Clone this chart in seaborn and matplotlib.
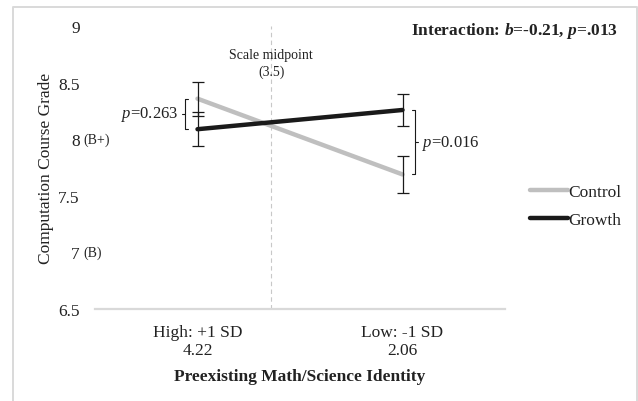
import matplotlib
matplotlib.use("Agg")
import matplotlib.pyplot as plt
import seaborn as sns
import pandas as pd
from matplotlib.lines import Line2D

# ---- data ----
categories = ["High: +1 SD\n4.22", "Low: -1 SD\n2.06"]
conditions = ["Control", "Growth"]
control = [8.36, 7.69]
growth = [8.09, 8.26]
control_err = [0.15, 0.16]
growth_err = [0.15, 0.14]
yticks = [6.5, 7, 7.5, 8, 8.5, 9]
ytick_labels = ["6.5", "7", "7.5", "8", "8.5", "9"]
grade_notes = {8: "(B+)", 7: "(B)"}
p_high = "0.263"
p_low = "0.016"
midpoint_label = "Scale midpoint\n(3.5)"

sns.set_theme(style="white")
plt.rcParams["font.family"] = ["Liberation Serif", "DejaVu Serif"]
plt.rcParams["mathtext.fontset"] = "custom"
plt.rcParams["mathtext.rm"] = "Liberation Serif"
plt.rcParams["mathtext.it"] = "Liberation Serif:italic"
plt.rcParams["mathtext.bf"] = "Liberation Serif:bold"
plt.rcParams["mathtext.bfit"] = "Liberation Serif:italic:bold"

TXT = "#222222"
GRAY = "#BFBFBF"
BLACK = "#1A1A1A"

df = pd.DataFrame({
    "identity": categories * 2,
    "grade": control + growth,
    "condition": ["Control"] * 2 + ["Growth"] * 2,
})

fig = plt.figure(figsize=(6.38, 4.02), dpi=100)
ax = fig.add_axes([95 / 638, 1 - 310 / 402, 410 / 638, (310 - 27.3) / 402])

# midpoint dashed line (behind)
mid_x = 0.36
ax.axvline(mid_x, color="#C8C8C8", lw=0.8, ls=(0, (4, 3)), zorder=1)
ax.text(mid_x, 8.81, midpoint_label, ha="center", va="top", fontsize=10,
        color=TXT, linespacing=1.35)

sns.lineplot(data=df, x="identity", y="grade", hue="condition",
             palette={"Control": GRAY, "Growth": BLACK}, linewidth=3.2,
             sort=False, ax=ax, legend=False, zorder=2)

xs = [0, 1]
ax.errorbar(xs, control, yerr=control_err, fmt="none", ecolor=BLACK,
            elinewidth=0.9, capsize=4, capthick=0.9, zorder=3)
ax.errorbar(xs, growth, yerr=growth_err, fmt="none", ecolor=BLACK,
            elinewidth=0.9, capsize=4, capthick=0.9, zorder=3)

# brackets
def bracket(x, y0, y1, direction, label):
    serif = 0.013
    ax.plot([x - direction * serif, x, x, x - direction * serif],
            [y0, y0, y1, y1], color=BLACK, lw=0.8, zorder=3)
    ym = (y0 + y1) / 2
    ax.plot([x, x + direction * 0.016], [ym, ym], color=BLACK, lw=0.8, zorder=3)
    if direction < 0:
        ax.text(x - 0.03, ym, r"$\it{p}$=" + label, ha="right", va="center",
                fontsize=12, color=TXT)
    else:
        ax.text(x + 0.033, ym, r"$\it{p}$=" + label, ha="left", va="center",
                fontsize=12, color=TXT)

bracket(-0.061, control[0], growth[0], -1, p_high)
bracket(1.061, growth[1], control[1], 1, p_low)

ax.set_xlim(-0.5, 1.5)
ax.set_ylim(6.5, 9)
ax.set_yticks(yticks)
ax.set_yticklabels(ytick_labels)
ax.tick_params(axis="y", length=0, pad=11, labelsize=12.5, labelcolor=TXT)
ax.tick_params(axis="x", length=0, pad=10.5, labelsize=12.5, labelcolor=TXT)
for v, note in grade_notes.items():
    ax.text(-0.029, v, note, transform=ax.get_yaxis_transform(), ha="left",
            va="center", fontsize=10, color=TXT)

ax.set_xlabel("Preexisting Math/Science Identity", fontsize=12.5,
              fontweight="bold", color=TXT, labelpad=7.5)
ax.set_ylabel("Computation Course Grade", fontsize=12.5, color=TXT, labelpad=3)

for s in ["left", "right", "top"]:
    ax.spines[s].set_visible(False)
ax.spines["bottom"].set_color("#D9D9D9")
ax.spines["bottom"].set_linewidth(1.6)
ax.grid(False)

# interaction annotation
fig.text(618 / 638, 1 - 31 / 402,
         r"Interaction: $\mathbfit{b}$=-0.21, $\mathbfit{p}$=.013",
         ha="right", va="center", fontsize=12.5, fontweight="bold", color=TXT)

# legend
handles = [Line2D([], [], color=GRAY, lw=3.2), Line2D([], [], color=BLACK, lw=3.2)]
leg = ax.legend(handles, conditions, loc="center left",
                bbox_to_anchor=(530 / 638, 1 - 207 / 402),
                bbox_transform=fig.transFigure, frameon=False, fontsize=12.5,
                handlelength=2.2, handletextpad=0.0, labelspacing=0.7,
                borderpad=0, borderaxespad=0)
for t in leg.get_texts():
    t.set_color(TXT)

# outer frame (left, top, right)
fc = "#D9D9D9"
x0, x1, yt = 12.5 / 638, 636.5 / 638, 1 - 8 / 402
fig.add_artist(Line2D([x0, x0, x1, x1], [-0.01, yt, yt, -0.01],
                      transform=fig.transFigure, color=fc, lw=1.4))

fig.savefig("out.png", dpi=100)
